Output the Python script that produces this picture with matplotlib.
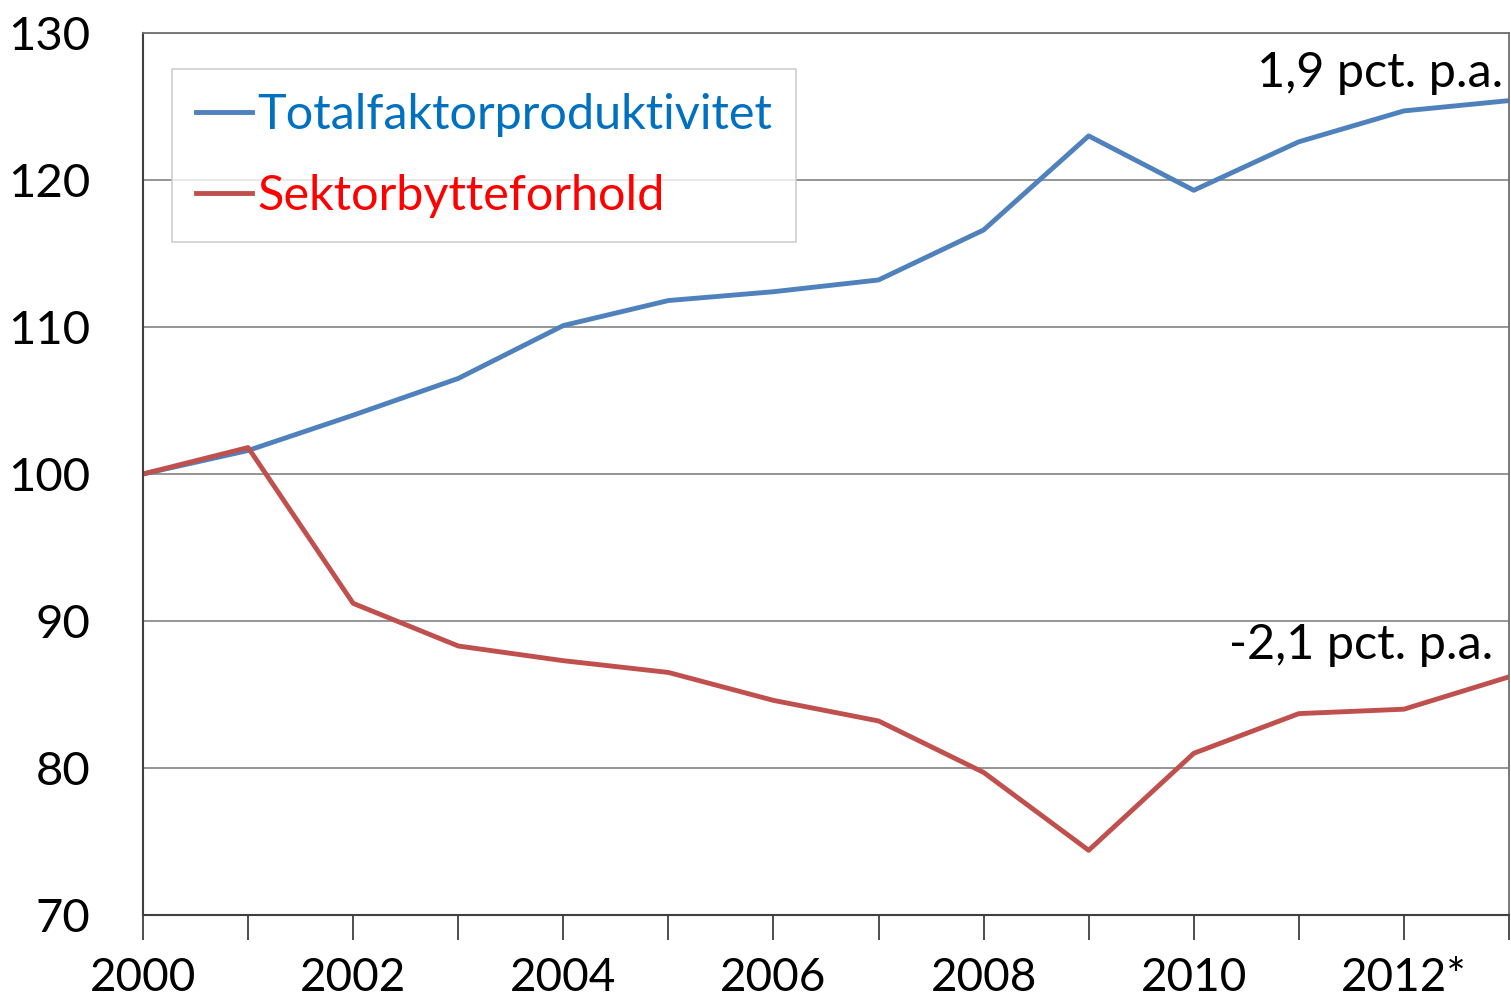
import matplotlib
matplotlib.use("Agg")
import matplotlib.pyplot as plt
from matplotlib.ticker import FixedLocator

# Data (index, 2000 = 100)
years = list(range(2000, 2014))
tfp = [100.0, 101.6, 104.0, 106.5, 110.1, 111.8, 112.4, 113.2,
       116.6, 123.0, 119.3, 122.6, 124.7, 125.4]
sektor = [100.0, 101.8, 91.2, 88.3, 87.3, 86.5, 84.6, 83.2,
          79.7, 74.4, 81.0, 83.7, 84.0, 86.2]
series_names = ["Totalfaktorproduktivitet", "Sektorbytteforhold"]
xtick_years = [2000, 2002, 2004, 2006, 2008, 2010, 2012]
xtick_labels = ["2000", "2002", "2004", "2006", "2008", "2010", "2012*"]
yticks = [70, 80, 90, 100, 110, 120, 130]
notes = ["1,9 pct. p.a.", "-2,1 pct. p.a."]

plt.rcParams['font.family'] = ['Lato', 'DejaVu Sans']

fig = plt.figure(figsize=(15.11, 10.05), dpi=100)
ax = fig.add_axes([143 / 1511, 1 - 915 / 1005, (1509 - 143) / 1511, (915 - 33) / 1005])

blue = "#4F81BD"
red = "#C0504D"
ax.plot(years, tfp, color=blue, lw=3.5, label=series_names[0])
ax.plot(years, sektor, color=red, lw=3.5, label=series_names[1])

ax.set_xlim(2000, 2013)
ax.set_ylim(70, 130)
ax.set_yticks(yticks)
ax.set_xticks(xtick_years)
ax.set_xticklabels(xtick_labels)
ax.xaxis.set_minor_locator(FixedLocator(years))
ax.tick_params(axis="x", which="both", direction="out", length=18, width=1.3,
               color="#404040", labelsize=33, pad=12)
ax.tick_params(axis="y", length=0, labelsize=34, pad=38)

ax.grid(axis="y", color="#8c8c8c", lw=1.3)
ax.set_axisbelow(True)
for side in ["left", "bottom"]:
    ax.spines[side].set_color("#404040")
    ax.spines[side].set_linewidth(1.5)
for side in ["top", "right"]:
    ax.spines[side].set_color("#707070")
    ax.spines[side].set_linewidth(1.3)

leg = ax.legend(loc="upper left", bbox_to_anchor=(29 / 1366, 1 - 36 / 882),
                fontsize=35, frameon=True, fancybox=False, handlelength=1.15,
                handletextpad=0.1, borderpad=0.5, labelspacing=0.75,
                borderaxespad=0)
leg.get_frame().set_edgecolor("#c8c8c8")
leg.get_frame().set_linewidth(1.3)
for txt, c in zip(leg.get_texts(), ["#0070C0", "#FF0000"]):
    txt.set_color(c)

ax.text(2012.95, 125.8, notes[0], fontsize=35, ha="right", va="bottom")
ax.text(2012.85, 86.9, notes[1], fontsize=35, ha="right", va="bottom")

fig.savefig("out.png", dpi=100)
